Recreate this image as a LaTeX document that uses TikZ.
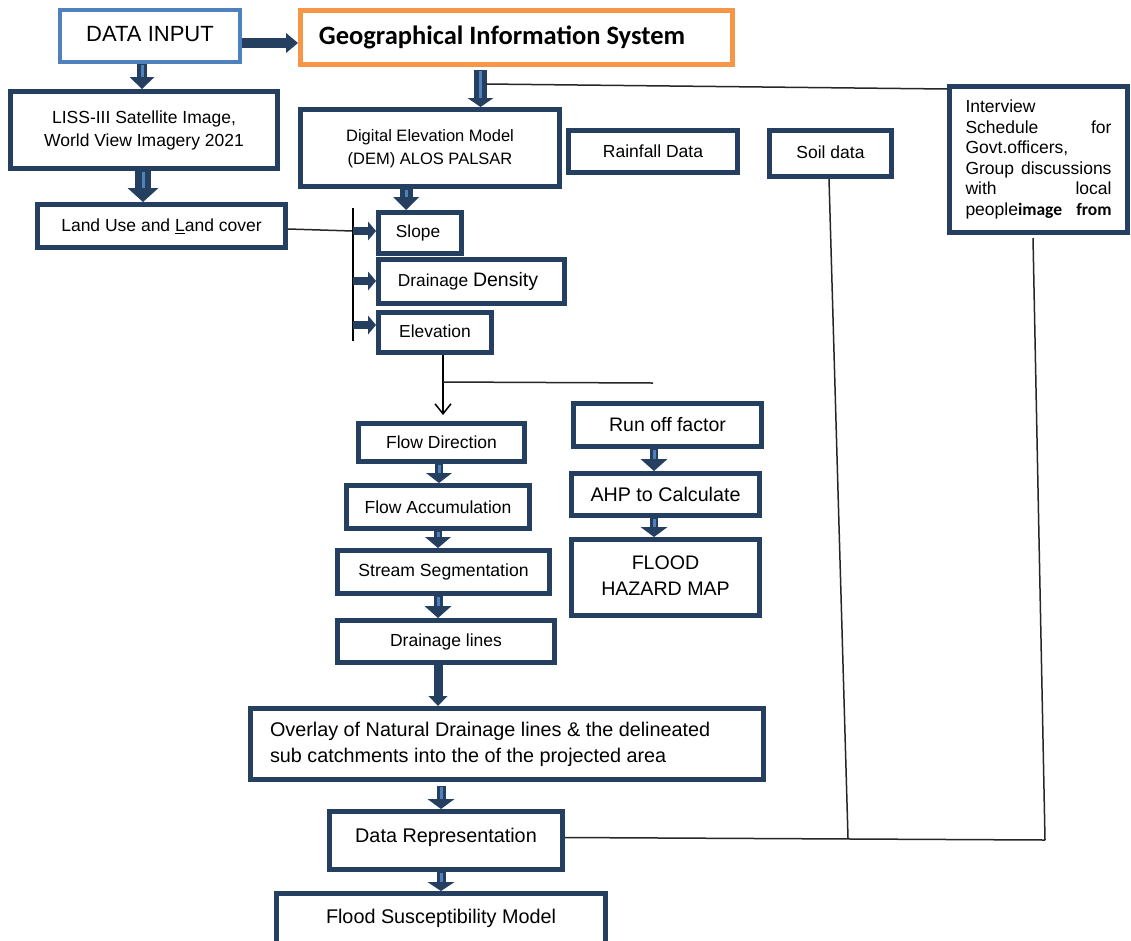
\documentclass[tikz,border=0pt]{standalone}
\usepackage{fontspec}
\setmainfont{Liberation Sans}
\newfontfamily\calfont{Carlito}
\usetikzlibrary{arrows.meta}
\definecolor{navy}{HTML}{253F61}
\definecolor{stripecol}{HTML}{4F81BD}
\definecolor{diblue}{HTML}{4F81BD}
\definecolor{gisorange}{HTML}{F79646}
\definecolor{thincol}{HTML}{262626}
\newcommand{\fs}[2]{\fontsize{#1}{#2}\selectfont}
\newcommand{\barrow}[6]{%
  \draw[navy, line width=#3, -{Triangle[width=#4,length=#5,line width=0pt]}] (#1) -- (#2);
  \ifnum#6=1\relax \draw[stripecol, line width=3pt, shorten >=#5, shorten <=1pt] (#1) -- (#2);\fi}
\begin{document}
\begin{tikzpicture}[x=1pt,y=-1pt,
  box/.style={draw=navy, line width=5pt, fill=white, inner sep=0pt, align=center},
  thinline/.style={draw=thincol, line width=1.5pt}]
\fill[white] (0,0) rectangle (1131,940);
\useasboundingbox (0,0) rectangle (1131,940);

% boxes
\node[box, draw=diblue, line width=4pt, minimum width=180pt, minimum height=52pt, font=\fs{22}{26}] (di) at (150,36)
  {\raisebox{4pt}{DATA INPUT}};
\node[box, draw=gisorange, minimum width=432pt, minimum height=54pt, font=\calfont\bfseries\fs{26.5}{30}] (gis) at (516.5,37.5)
  {\hspace*{-29pt}Geographical Information System};
\node[box, minimum width=267pt, minimum height=77pt, font=\fs{17.5}{23}] (liss) at (144,130)
  {\raisebox{5pt}{\begin{tabular}{@{}c@{}}LISS-III Satellite Image,\\ World View Imagery 2021\end{tabular}}};
\node[box, minimum width=248pt, minimum height=43pt, font=\fs{17.5}{21}] (lulc) at (161.5,226)
  {Land Use and \underline{L}and cover};
\node[box, minimum width=259pt, minimum height=77pt, font=\fs{16.5}{23}] (dem) at (430,148)
  {\raisebox{3.5pt}{\begin{tabular}{@{}c@{}}Digital Elevation Model\\ (DEM) ALOS PALSAR\end{tabular}}};
\node[box, minimum width=169pt, minimum height=42pt, font=\fs{17.5}{21}] (rain) at (653,151.5)
  {Rainfall Data};
\node[box, minimum width=122pt, minimum height=46pt, font=\fs{17.5}{21}] (soil) at (830.5,153.5)
  {\raisebox{2pt}{Soil data}};
\node[box, minimum width=178pt, minimum height=146pt, text width=146pt, align=flush left, font=\fs{17.5}{20.5}] (intv) at (1038.5,159.5)
  {Interview\\
   Schedule\hfill for\\
   Govt.officers,\\
   Group\hfill discussions\\
   with\hfill local\\
   people{\calfont\bfseries image}\hfill{\calfont\bfseries from}};
\node[box, minimum width=83pt, minimum height=41pt, font=\fs{17.3}{21}] (slope) at (420,233)
  {\hspace*{-4pt}Slope};
\node[box, minimum width=186pt, minimum height=44pt, font=\fs{17.3}{21}] (dd) at (471.5,281.5)
  {\hspace*{-7pt}Drainage {\fs{19.5}{21}Density}};
\node[box, minimum width=113pt, minimum height=40pt, font=\fs{17.4}{21}] (elev) at (435,332.5)
  {\raisebox{3.5pt}{Elevation}};
\node[box, minimum width=166pt, minimum height=38pt, font=\fs{17.5}{21}] (fd) at (441.5,442.5)
  {Flow Direction};
\node[box, minimum width=183pt, minimum height=43pt, font=\fs{17.5}{21}] (fa) at (438,507)
  {Flow Accumulation};
\node[box, minimum width=212pt, minimum height=43pt, font=\fs{17.6}{21}] (ss) at (443.5,572)
  {Stream Segmentation};
\node[box, minimum width=217pt, minimum height=42pt, font=\fs{17.5}{21}] (dl) at (446,641.5)
  {Drainage lines};
\node[box, minimum width=188pt, minimum height=43pt, font=\fs{19.5}{23}] (rof) at (667.5,425)
  {Run off factor};
\node[box, minimum width=188pt, minimum height=42pt, font=\fs{19.7}{23}] (ahp) at (665.5,494.5)
  {AHP to Calculate};
\node[box, minimum width=188pt, minimum height=76pt, font=\fs{19.6}{26}] (fhm) at (665.5,577.5)
  {\raisebox{2pt}{\begin{tabular}{@{}c@{}}FLOOD\\ HAZARD MAP\end{tabular}}};
\node[box, minimum width=513pt, minimum height=71pt, text width=474pt, align=flush left, font=\fs{19.8}{26}] (ovl) at (507,744)
  {Overlay of Natural Drainage lines \& the delineated\\ sub catchments into the of the projected area};
\node[box, minimum width=233pt, minimum height=58pt, font=\fs{19.8}{23}] (dr) at (446,840.5)
  {\raisebox{10pt}{Data Representation}};
\node[box, minimum width=329pt, minimum height=54pt, font=\fs{19.8}{23}] (fsm) at (441,920.5)
  {\raisebox{8pt}{Flood Susceptibility Model}};

% bracket coordinates
\coordinate (brt) at (353,208);
\coordinate (brb) at (353,341);
\coordinate (br1) at (353,231);
\coordinate (br2) at (353,281);
\coordinate (br3) at (353,325);

% thin connectors
\path (lulc.east) ++(0,3) coordinate (lu1);
\draw[thinline] (lu1) -- (br1);
\draw[draw=black, line width=2pt] (brt) -- (brb);
\path (elev.south) ++(8,0) coordinate (el1);
\path (el1) ++(0,27) coordinate (jn);
\coordinate (jnend) at (653,383);
\draw[thinline, draw=black, -{Straight Barb[length=10pt,width=16pt]}, shorten >=6pt] (el1) -- (el1 |- fd.north);
\draw[thinline] (jn) -- (jnend);

% block arrows
\path (di.east) ++(0,7) coordinate (a1);
\barrow{a1}{a1 -| gis.west}{10pt}{20pt}{12pt}{0}
\path (di.south) ++(-8,0) coordinate (b1);
\barrow{b1}{b1 |- liss.north}{10pt}{25pt}{12pt}{1}
\path (liss.south) ++(-1,0) coordinate (c1);
\barrow{c1}{c1 |- lulc.north}{16pt}{31pt}{14pt}{1}
\path (gis.south) ++(-36,3) coordinate (d1);
\barrow{d1}{d1 |- dem.north}{13pt}{26pt}{9pt}{1}
\path (dem.south) ++(-24,0) coordinate (e1);
\barrow{e1}{e1 |- slope.north}{13pt}{26pt}{13pt}{1}
\barrow{br1}{br1 -| slope.west}{8pt}{19pt}{8pt}{0}
\barrow{br2}{br2 -| dd.west}{8pt}{19pt}{8pt}{0}
\barrow{br3}{br3 -| elev.west}{8pt}{19pt}{8pt}{0}
\path (fd.south) ++(-2.5,0) coordinate (g1);
\barrow{g1}{g1 |- fa.north}{8pt}{26pt}{10pt}{1}
\barrow{fa.south}{fa.south |- ss.north}{8pt}{26pt}{11pt}{1}
\path (ss.south) ++(-5.5,0) coordinate (i1);
\barrow{i1}{i1 |- dl.north}{9pt}{27pt}{12pt}{1}
\path (rof.south) ++(-13.5,0) coordinate (j1);
\barrow{j1}{j1 |- ahp.north}{8pt}{27pt}{12pt}{1}
\path (ahp.south) ++(-11.5,0) coordinate (k1);
\barrow{k1}{k1 |- fhm.north}{8pt}{27pt}{10pt}{1}
\path (dl.south) ++(-8,0) coordinate (l1);
\barrow{l1}{l1 |- ovl.north}{9pt}{19pt}{10pt}{0}
\path (ovl.south) ++(-66,4) coordinate (m1);
\barrow{m1}{m1 |- dr.north}{9pt}{27pt}{10pt}{1}
\path (dr.south) ++(-5,0) coordinate (n1);
\barrow{n1}{n1 |- fsm.north}{9pt}{27pt}{9pt}{1}

% long thin lines
\path (d1) ++(5,14) coordinate (gl1);
\path (intv.north west) ++(0,5) coordinate (iw);
\draw[thinline] (gl1) -- (iw);
\path (soil.south) ++(-1.5,0) coordinate (so1);
\coordinate (so2) at (848,838);
\draw[thinline] (so1) -- (so2);
\path (intv.south) ++(-5.5,3) coordinate (iv1);
\coordinate (iv2) at (1045,840);
\draw[thinline] (iv1) -- (iv2);
\path (dr.east) ++(0,-3) coordinate (dr1);
\draw[thinline] (dr1) -- (iv2);
\end{tikzpicture}
\end{document}
